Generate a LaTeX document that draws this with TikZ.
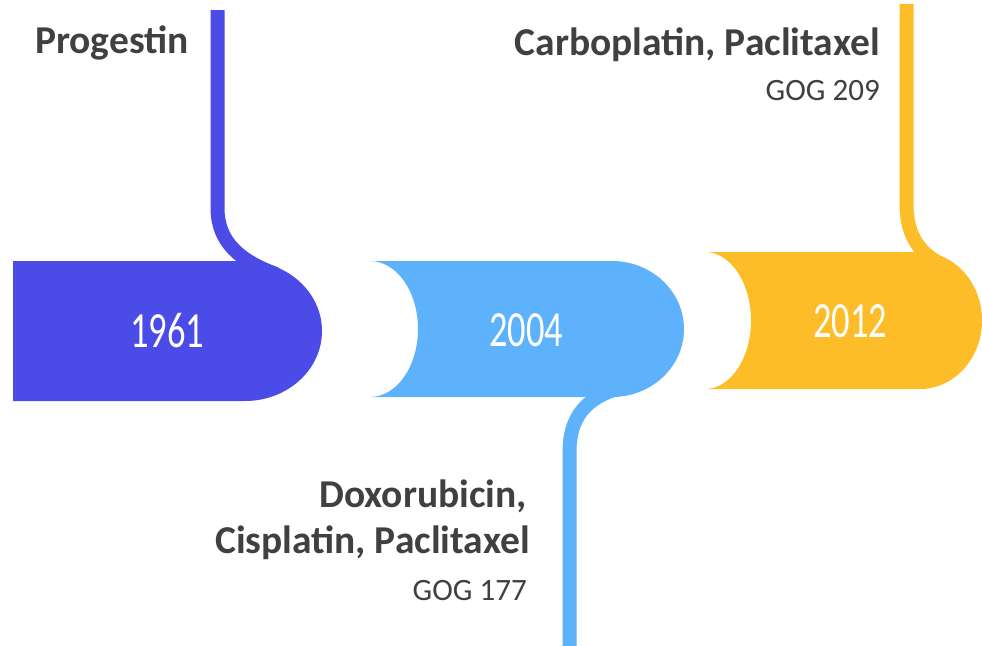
\documentclass[tikz,border=0pt]{standalone}
\usepackage{fontspec}
\setmainfont{Carlito}
\newfontfamily\yearfont[FakeStretch=0.72]{Carlito}
\definecolor{indigoc}{HTML}{4B4BE8}
\definecolor{skyc}{HTML}{5EB2FC}
\definecolor{amberc}{HTML}{FCBD28}
\definecolor{inkc}{HTML}{404040}
\begin{document}
\begin{tikzpicture}[x=0.75pt,y=-0.75pt,
  stem/.style={line width=10.5pt},
  year/.style={text=white,font=\yearfont\fontsize{38}{40}\selectfont,inner sep=0pt},
  drug/.style={text=inkc,font=\bfseries\fontsize{29.6}{34}\selectfont,anchor=base east,inner sep=0pt},
  trial/.style={text=inkc,font=\fontsize{23.3}{27}\selectfont,anchor=base east,inner sep=0pt}]
\useasboundingbox (0,0) rectangle (982,646);

% 1961 tab with its stem rising to the top
\fill[indigoc] (13,261) -- (245,261) arc[start angle=-90,end angle=90,x radius=77,y radius=70] -- (13,401) -- cycle;
\draw[indigoc,stem] (217.5,10) -- (217.5,208) .. controls (217.5,242) and (240,261) .. (276,274);

% 2004 tab with its stem falling to the bottom
\fill[skyc] (370,261) -- (612,261) arc[start angle=-90,end angle=90,x radius=72,y radius=68]
  -- (370,397) arc[start angle=90,end angle=-90,x radius=48,y radius=68] -- cycle;
\draw[skyc,stem] (569.5,646) -- (569.5,452) .. controls (569.5,418) and (585,398) .. (620,388);

% 2012 tab with its stem rising to the top
\fill[amberc] (705,252) -- (920,252) arc[start angle=-90,end angle=90,x radius=62,y radius=68.5]
  -- (705,389) arc[start angle=90,end angle=-90,x radius=46,y radius=68.5] -- cycle;
\draw[amberc,stem] (906.5,4) -- (906.5,204) .. controls (906.5,236) and (920,254) .. (943,265);

% years
\node[year] (y1961) at (167,331) {1961};
\node[year] (y2004) at (526,330) {2004};
\node[year] (y2012) at (850,321) {2012};

% treatments
\node[drug] (progestin) at (189,53) {Progestin};
\node[drug] (carbo) at (880,55) {Carboplatin, Paclitaxel};
\node[trial] (gog209) at (880,100) {GOG 209};
\node[drug] (doxo) at (527,507) {Doxorubicin,};
\node[drug] (cispl) at (530,553) {Cisplatin, Paclitaxel};
\node[trial] (gog177) at (527,600) {GOG 177};
\end{tikzpicture}
\end{document}
